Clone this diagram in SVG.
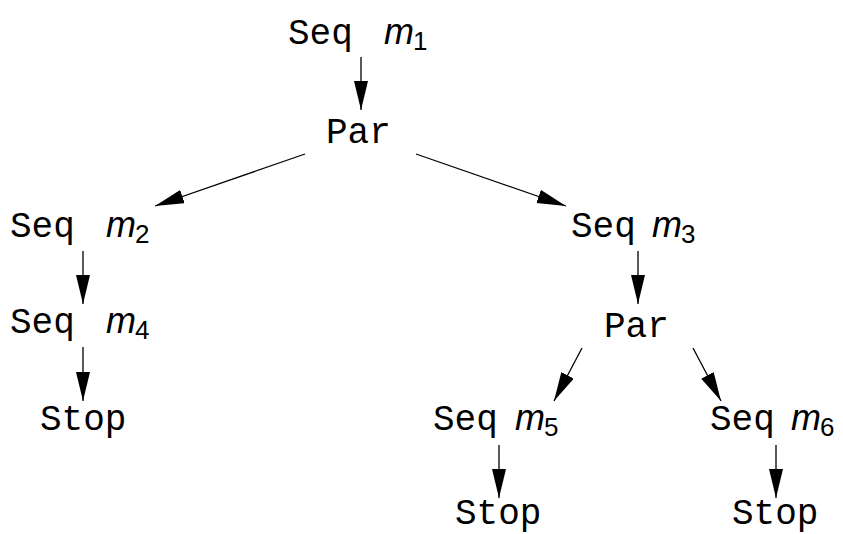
<svg xmlns="http://www.w3.org/2000/svg" width="843" height="534" viewBox="0 0 843 534">
<style>
.t{font-family:"Liberation Mono","DejaVu Sans Mono",monospace;font-size:36px;fill:#000}
.m{font-family:"Liberation Sans",Arial,sans-serif;font-style:italic;font-size:36px;fill:#000}
.s{font-family:"Liberation Sans",Arial,sans-serif;font-size:26px;fill:#000}
.c{stroke:#000;stroke-width:1.3;fill:none;marker-end:url(#ah)}
</style>
<defs>
<marker id="ah" markerUnits="userSpaceOnUse" markerWidth="30" markerHeight="16" refX="29" refY="7" orient="auto">
<path d="M0,0 L29,7 L0,14 z" fill="#000"/>
</marker>
</defs>
<rect width="843" height="534" fill="#fff"/>
<g id="connectors">
<line class="c" x1="361" y1="57" x2="361" y2="110"/>
<line class="c" x1="305" y1="154" x2="155" y2="206"/>
<line class="c" x1="416" y1="154" x2="566" y2="206"/>
<line class="c" x1="83" y1="251" x2="83" y2="304"/>
<line class="c" x1="83" y1="347" x2="83" y2="401"/>
<line class="c" x1="638" y1="251" x2="638" y2="304"/>
<line class="c" x1="582" y1="348" x2="554" y2="401"/>
<line class="c" x1="693" y1="348" x2="721" y2="401"/>
<line class="c" x1="499" y1="445" x2="499" y2="498"/>
<line class="c" x1="776" y1="445" x2="776" y2="498"/>
</g>
<g id="n1"><text class="t" x="288" y="44">Seq</text><text class="m" x="384" y="44">m</text><text class="s" x="413" y="50">1</text></g>
<g id="n2"><text class="t" x="326" y="143">Par</text></g>
<g id="n3"><text class="t" x="10" y="237">Seq</text><text class="m" x="106" y="237">m</text><text class="s" x="135" y="243">2</text></g>
<g id="n4"><text class="t" x="571" y="237">Seq</text><text class="m" x="652" y="237">m</text><text class="s" x="681" y="243">3</text></g>
<g id="n5"><text class="t" x="10" y="333">Seq</text><text class="m" x="106" y="333">m</text><text class="s" x="135" y="339">4</text></g>
<g id="n6"><text class="t" x="604" y="337">Par</text></g>
<g id="n7"><text class="t" x="40" y="430">Stop</text></g>
<g id="n8"><text class="t" x="433" y="430">Seq</text><text class="m" x="515" y="430">m</text><text class="s" x="544" y="436">5</text></g>
<g id="n9"><text class="t" x="710" y="430">Seq</text><text class="m" x="791" y="430">m</text><text class="s" x="820" y="436">6</text></g>
<g id="n10"><text class="t" x="455" y="524">Stop</text></g>
<g id="n11"><text class="t" x="732" y="524">Stop</text></g>
</svg>
